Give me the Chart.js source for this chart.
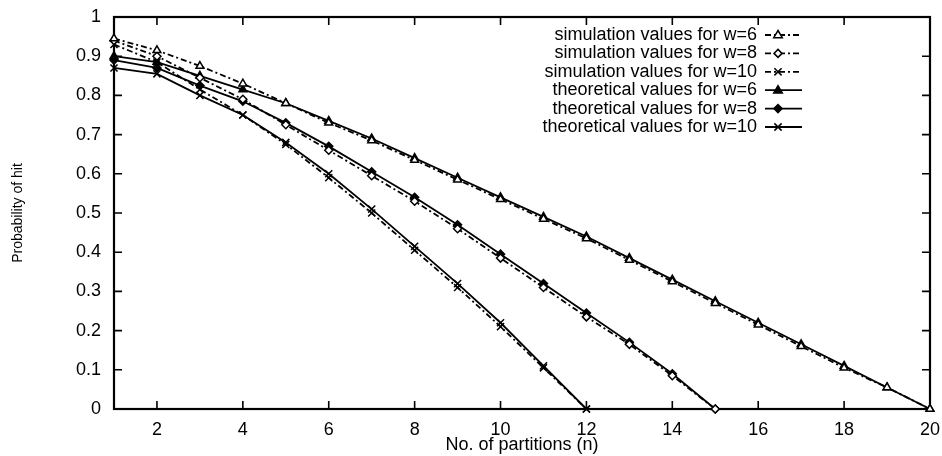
<!DOCTYPE html>
<html>
<head>
<meta charset="utf-8">
<script src="https://cdn.jsdelivr.net/npm/chart.js@4/dist/chart.umd.min.js"></script>
<style>
  html, body { margin: 0; padding: 0; background: #fff; }
  #wrap { width: 942px; height: 456px; }
</style>
</head>
<body>
<div id="wrap"><canvas id="hit-chart" width="942" height="456"></canvas></div>
<script>
// number of partitions (n)
const particiones = [1, 2, 3, 4, 5, 6, 7, 8, 9, 10, 11, 12, 13, 14, 15, 16, 17, 18, 19, 20];

// simulated hit probability
const simW6 = [0.945, 0.915, 0.875, 0.83, 0.78, 0.73, 0.685, 0.635, 0.585, 0.535, 0.485, 0.435, 0.38, 0.325, 0.27, 0.215, 0.16, 0.105, 0.055, 0.0];
const simW8 = [0.94, 0.90, 0.845, 0.79, 0.725, 0.66, 0.595, 0.53, 0.46, 0.385, 0.31, 0.235, 0.165, 0.085, 0.0];
const simW10 = [0.93, 0.885, 0.815, 0.75, 0.675, 0.59, 0.50, 0.405, 0.31, 0.21, 0.105, 0.0];

// theoretical hit probability
const teoW6 = [0.90, 0.885, 0.85, 0.815, 0.78, 0.735, 0.69, 0.64, 0.59, 0.54, 0.49, 0.44, 0.385, 0.33, 0.275, 0.22, 0.165, 0.11, 0.055, 0.0];
const teoW8 = [0.89, 0.87, 0.825, 0.785, 0.73, 0.67, 0.605, 0.54, 0.47, 0.395, 0.32, 0.245, 0.17, 0.09, 0.0];
const teoW10 = [0.87, 0.855, 0.80, 0.75, 0.68, 0.60, 0.51, 0.415, 0.32, 0.22, 0.11, 0.0];

// axis ticks
const ticksX = [2, 4, 6, 8, 10, 12, 14, 16, 18, 20];
const ticksY = [0, 0.1, 0.2, 0.3, 0.4, 0.5, 0.6, 0.7, 0.8, 0.9, 1];
const etiquetasY = ["0", "0.1", "0.2", "0.3", "0.4", "0.5", "0.6", "0.7", "0.8", "0.9", "1"];

const fuente = "'Liberation Sans', Arial, Helvetica, sans-serif";
const guionPunto = [6, 3, 2, 3];
const grosor = 1.8;

const puntos = (ys) => ys.map((y, i) => ({ x: particiones[i], y }));

function serie(label, ys, estilo, radio, relleno, dash) {
    return {
        label,
        data: puntos(ys),
        borderColor: "#000",
        borderWidth: grosor,
        borderDash: dash,
        pointStyle: estilo,
        pointRadius: radio,
        pointBorderColor: "#000",
        pointBackgroundColor: relleno,
        pointBorderWidth: 1.5,
        tension: 0,
        clip: 10,
    };
}

const datasets = [
    serie("simulation values for w=6", simW6, "triangle", 4.5, "#fff", guionPunto),
    serie("simulation values for w=8", simW8, "rectRot", 4, "#fff", guionPunto),
    serie("simulation values for w=10", simW10, "crossRot", 5, "#fff", guionPunto),
    serie("theoretical values for w=6", teoW6, "triangle", 4.5, "#000", []),
    serie("theoretical values for w=8", teoW8, "rectRot", 4, "#000", []),
    serie("theoretical values for w=10", teoW10, "crossRot", 5, "#000", []),
];

// marker for the key samples
function marca(ctx, estilo, x, y, r, relleno) {
    ctx.save();
    ctx.beginPath();
    ctx.setLineDash([]);
    ctx.lineWidth = 1.5;
    ctx.strokeStyle = "#000";
    ctx.fillStyle = relleno;
    if (estilo === "triangle") {
        ctx.moveTo(x, y - r);
        ctx.lineTo(x + r * 0.95, y + r * 0.6);
        ctx.lineTo(x - r * 0.95, y + r * 0.6);
        ctx.closePath();
        ctx.fill();
        ctx.stroke();
    } else if (estilo === "rectRot") {
        ctx.moveTo(x, y - r);
        ctx.lineTo(x + r, y);
        ctx.lineTo(x, y + r);
        ctx.lineTo(x - r, y);
        ctx.closePath();
        ctx.fill();
        ctx.stroke();
    } else {
        const d = r * 0.72;
        ctx.moveTo(x - d, y - d);
        ctx.lineTo(x + d, y + d);
        ctx.moveTo(x + d, y - d);
        ctx.lineTo(x - d, y + d);
        ctx.stroke();
    }
    ctx.restore();
}

// frame with inward ticks on all four sides, and the key
const marco = {
    id: "marco",
    beforeDatasetsDraw(chart) {
        const { ctx, chartArea: a, scales } = chart;
        ctx.save();
        ctx.strokeStyle = "#000";
        ctx.lineWidth = 1.6;
        ctx.beginPath();
        ticksX.forEach((v) => {
            const px = scales.x.getPixelForValue(v);
            ctx.moveTo(px, a.bottom);
            ctx.lineTo(px, a.bottom - 8);
            ctx.moveTo(px, a.top);
            ctx.lineTo(px, a.top + 8);
        });
        ticksY.forEach((v) => {
            const py = scales.y.getPixelForValue(v);
            ctx.moveTo(a.left, py);
            ctx.lineTo(a.left + 8, py);
            ctx.moveTo(a.right, py);
            ctx.lineTo(a.right - 8, py);
        });
        ctx.stroke();
        ctx.lineWidth = 2.2;
        ctx.strokeRect(a.left, a.top, a.right - a.left, a.bottom - a.top);
        ctx.restore();
    },
    afterDatasetsDraw(chart) {
        const { ctx } = chart;
        ctx.save();
        ctx.font = "18px " + fuente;
        ctx.fillStyle = "#000";
        ctx.textAlign = "right";
        ctx.textBaseline = "middle";
        chart.data.datasets.forEach((ds, i) => {
            const y = 35 + i * 18.4;
            ctx.fillText(ds.label, 757, y);
            ctx.beginPath();
            ctx.strokeStyle = "#000";
            ctx.lineWidth = grosor;
            ctx.setLineDash(ds.borderDash);
            ctx.moveTo(765, y);
            ctx.lineTo(802, y);
            ctx.stroke();
            marca(ctx, ds.pointStyle, 778, y, ds.pointRadius, ds.pointBackgroundColor);
        });
        ctx.restore();
    },
};

new Chart(document.getElementById("hit-chart").getContext("2d"), {
    type: "line",
    data: { datasets },
    options: {
        responsive: false,
        animation: false,
        events: [],
        layout: { padding: { left: 0, right: 12, top: 17, bottom: 0 } },
        plugins: {
            legend: { display: false },
            tooltip: { enabled: false },
        },
        scales: {
            x: {
                type: "linear",
                min: 1,
                max: 20,
                afterBuildTicks: (axis) => {
                    axis.ticks = ticksX.map((v) => ({ value: v }));
                },
                afterFit: (axis) => {
                    axis.height = 47;
                    axis.paddingLeft = 0;
                    axis.paddingRight = 0;
                },
                grid: { display: false, drawTicks: false },
                border: { display: false },
                ticks: {
                    color: "#000",
                    padding: 10,
                    maxRotation: 0,
                    font: { family: fuente, size: 18 },
                },
                title: {
                    display: true,
                    text: "No. of partitions (n)",
                    color: "#000",
                    padding: { top: 0, bottom: 0 },
                    font: { family: fuente, size: 18 },
                },
            },
            y: {
                min: 0,
                max: 1,
                afterBuildTicks: (axis) => {
                    axis.ticks = ticksY.map((v) => ({ value: v }));
                },
                afterFit: (axis) => {
                    axis.width = 114;
                    axis.paddingTop = 0;
                    axis.paddingBottom = 0;
                },
                grid: { display: false, drawTicks: false },
                border: { display: false },
                ticks: {
                    color: "#000",
                    padding: 13,
                    font: { family: fuente, size: 18 },
                    callback: (v) => etiquetasY[ticksY.indexOf(v)] ?? "",
                },
                title: {
                    display: true,
                    text: "Probability of hit",
                    color: "#000",
                    padding: { top: 10, bottom: 0 },
                    font: { family: fuente, size: 14 },
                },
            },
        },
    },
    plugins: [marco],
});
</script>
</body>
</html>
